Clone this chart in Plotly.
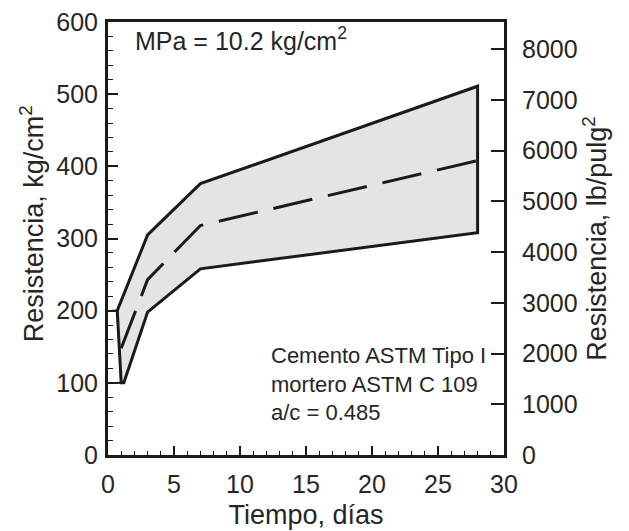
import plotly.graph_objects as go

# Data (kg/cm^2 vs days)
upper_days = [0.7, 3, 7, 28]
upper_vals = [200, 305, 376, 511]
lower_days = [1.0, 1.2, 3, 7, 28]
lower_vals = [100, 100, 198, 258, 308]
mid_days = [1.0, 3, 7, 28]
mid_vals = [148, 243, 318, 408]
stub_top_days = [0.35, 0.7]
stub_top_vals = [200, 200]
stub_bot_days = [0.7, 1.0]
stub_bot_vals = [100, 100]

KG_TO_PSI = 14.223
x_ticks = [0, 5, 10, 15, 20, 25, 30]
y_ticks = [0, 100, 200, 300, 400, 500, 600]
y2_ticks = [0, 1000, 2000, 3000, 4000, 5000, 6000, 7000, 8000]

FONT = "Liberation Sans, Arial, sans-serif"
TICK_FS = 25
TITLE_FS = 27
TXT = "#262626"
BLACK = "#1a1a1a"

poly_x = upper_days + [upper_days[-1]] + lower_days[::-1] + [upper_days[0]]
poly_y = upper_vals + [lower_vals[-1]] + lower_vals[::-1] + [upper_vals[0]]

fig = go.Figure()
fig.add_trace(go.Scatter(x=poly_x, y=poly_y, mode="lines", fill="toself",
                         fillcolor="#e3e4e6", line=dict(color=BLACK, width=3),
                         hoverinfo="skip", showlegend=False))
fig.add_trace(go.Scatter(x=stub_top_days, y=stub_top_vals, mode="lines",
                         line=dict(color=BLACK, width=2), showlegend=False, hoverinfo="skip"))
fig.add_trace(go.Scatter(x=stub_bot_days, y=stub_bot_vals, mode="lines",
                         line=dict(color=BLACK, width=2), showlegend=False, hoverinfo="skip"))
fig.add_trace(go.Scatter(x=mid_days, y=mid_vals, mode="lines",
                         line=dict(color=BLACK, width=3, dash="40px,16px"),
                         showlegend=False, hoverinfo="skip"))
# invisible trace for the right axis (lb/pulg2)
fig.add_trace(go.Scatter(x=mid_days, y=[v * KG_TO_PSI for v in mid_vals], yaxis="y2",
                         mode="lines", line=dict(width=0, color="rgba(0,0,0,0)"),
                         showlegend=False, hoverinfo="skip"))

fig.add_annotation(x=1.9, y=576, xref="x", yref="y", text="MPa = 10.2 kg/cm<sup>2</sup>",
                   showarrow=False, xanchor="left", yanchor="middle",
                   font=dict(family=FONT, size=25, color=TXT))
fig.add_annotation(x=12.2, y=99, xref="x", yref="y",
                   text="Cemento ASTM Tipo I<br>mortero ASTM C 109<br>a/c = 0.485",
                   showarrow=False, xanchor="left", yanchor="middle", align="left",
                   font=dict(family=FONT, size=22, color=TXT))
# left axis title (placed as annotation to match its position)
fig.add_annotation(x=-0.192, y=0.535, xref="paper", yref="paper",
                   text="Resistencia, kg/cm<sup>2</sup>", textangle=-90,
                   showarrow=False, xanchor="center", yanchor="middle",
                   font=dict(family=FONT, size=TITLE_FS, color=TXT))

fig.update_layout(
    width=629, height=531,
    margin=dict(l=108, r=125, t=22, b=76, autoexpand=False),
    plot_bgcolor="white", paper_bgcolor="white",
    font=dict(family=FONT, size=TICK_FS, color=TXT),
    xaxis=dict(range=[0, 30], tickvals=x_ticks, ticks="inside", ticklen=9, tickwidth=2,
               tickcolor=BLACK, showline=True, linecolor=BLACK, linewidth=3, mirror=True,
               showgrid=False, zeroline=False, automargin=False,
               minor=dict(dtick=1, ticks="inside", ticklen=4, tickwidth=1, tickcolor=BLACK),
               title=dict(text="Tiempo, días", standoff=9, font=dict(size=TITLE_FS)),
               tickfont=dict(size=TICK_FS), ticklabelstandoff=5),
    yaxis=dict(range=[0, 600], tickvals=y_ticks, ticks="inside", ticklen=10, tickwidth=2,
               tickcolor=BLACK, showline=True, linecolor=BLACK, linewidth=3, mirror=True,
               showgrid=False, zeroline=False, automargin=False,
               minor=dict(dtick=20, ticks="inside", ticklen=5, tickwidth=1, tickcolor=BLACK),
               tickfont=dict(size=TICK_FS), ticklabelstandoff=2),
    yaxis2=dict(range=[0, 600 * KG_TO_PSI], tickvals=y2_ticks, overlaying="y", side="right",
                ticks="inside", ticklen=13, tickwidth=2, tickcolor=BLACK, automargin=False,
                showline=True, linecolor=BLACK, linewidth=3, showgrid=False, zeroline=False,
                title=dict(text="Resistencia, lb/pulg<sup>2</sup>", standoff=8, font=dict(size=TITLE_FS)),
                tickfont=dict(size=TICK_FS), ticklabelstandoff=10),
)

fig.write_html("out.html")
